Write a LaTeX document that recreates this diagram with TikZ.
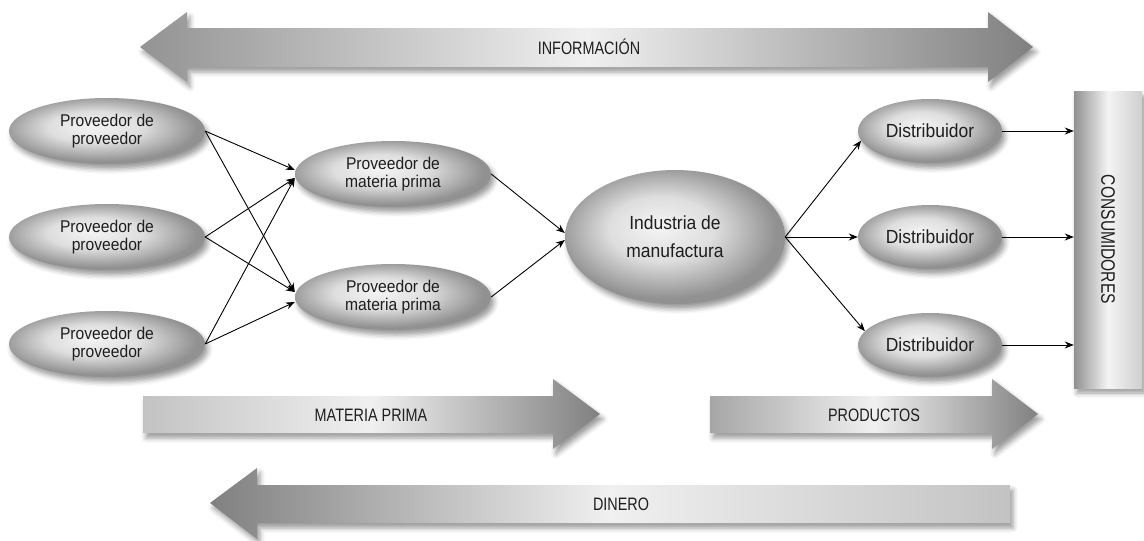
\documentclass[tikz,border=0pt]{standalone}
\usepackage{fontspec}
\setmainfont{Liberation Sans}[FakeStretch=0.92]
\newfontfamily\capsfont{Liberation Sans}[FakeStretch=0.8]
\usetikzlibrary{shapes.geometric,arrows.meta,shadows.blur}
\definecolor{txt}{RGB}{30,30,30}
\definecolor{ecA}{RGB}{244,244,244}
\definecolor{ecB}{RGB}{222,222,222}
\definecolor{ecC}{RGB}{145,145,145}
\definecolor{gdark}{RGB}{128,128,128}
\definecolor{gmid}{RGB}{195,195,195}
\definecolor{glight}{RGB}{240,240,240}
\pgfdeclareradialshading{ellsh}{\pgfpoint{-4bp}{4bp}}{color(0bp)=(ecA); color(12bp)=(ecB); color(25bp)=(ecC); color(50bp)=(ecC)}
\tikzset{
  softshadow/.style={blur shadow={shadow xshift=3pt, shadow yshift=-5pt, shadow blur radius=5pt, shadow opacity=40}},
  ell/.style={ellipse, draw=none, shading=ellsh, inner sep=0pt, align=center, text=txt, softshadow},
  prov/.style={ell, minimum width=196pt, minimum height=66pt, font=\fontsize{17}{18.5}\selectfont},
  dist/.style={ell, minimum width=144pt, minimum height=64pt, font=\fontsize{19}{20}\selectfont},
  conn/.style={draw=black, line width=0.9pt, -{Stealth[length=9pt,width=7pt]}},
  lbl/.style={font=\capsfont\fontsize{18}{20}\selectfont, text=txt, inner sep=0pt},
}
\begin{document}
\begin{tikzpicture}[x=1pt,y=-1pt]
\useasboundingbox (0,0) rectangle (1144,541);
% big arrows
\path[softshadow, left color=gdark!85!white, right color=gdark, middle color=glight]
  (140,47) -- (187,12) -- (187,28) -- (988,28) -- (988,12) -- (1033,47)
  -- (988,82) -- (988,67) -- (187,67) -- (187,82) -- cycle;
\node[lbl] (info) at (589,47) {INFORMACIÓN};

\path[softshadow, left color=gmid, right color=gdark, middle color=glight]
  (143,396) -- (553,396) -- (553,379) -- (600,414) -- (553,449) -- (553,433) -- (143,433) -- cycle;
\node[lbl] (mp) at (371,415) {MATERIA PRIMA};

\path[softshadow, left color=gdark!70!white, right color=gdark, middle color=glight]
  (710,396) -- (992,396) -- (992,379) -- (1038,414) -- (992,449) -- (992,433) -- (710,433) -- cycle;
\node[lbl] (prod) at (874,415) {PRODUCTOS};

\path[softshadow, left color=gdark, right color=gmid, middle color=glight]
  (210,503) -- (257,468) -- (257,485) -- (1010,485) -- (1010,523) -- (257,523) -- (257,539) -- cycle;
\node[lbl] (din) at (621,504) {DINERO};

% consumers
\node[softshadow, rectangle, minimum width=68pt, minimum height=297pt, inner sep=0pt,
      left color=ecC, right color=ecB!80!ecC, middle color=ecA] (cons) at (1108,239.5) {};
\node[lbl, font=\capsfont\fontsize{19.5}{21}\selectfont, rotate=-90] (conslbl) at (cons.center) {CONSUMIDORES};

% ellipses
\node[prov] (p1) at (107,131) {Proveedor de\\proveedor};
\node[prov] (p2) at (107,237) {Proveedor de\\proveedor};
\node[prov] (p3) at (107,344) {Proveedor de\\proveedor};
\node[prov] (m1) at (393,174) {Proveedor de\\materia prima};
\node[prov] (m2) at (393,297) {Proveedor de\\materia prima};
\node[ell, minimum width=220pt, minimum height=134pt, font=\fontsize{19}{20}\selectfont] (ind) at (675,237) {Industria de\\[8pt]manufactura};
\node[dist] (d1) at (930,131) {Distribuidor};
\node[dist] (d2) at (930,237) {Distribuidor};
\node[dist] (d3) at (930,345) {Distribuidor};

% connectors
\draw[conn] (p1.east) -- ([yshift=4pt]m1.west);
\draw[conn] (p1.east) -- ([yshift=5pt]m2.west);
\draw[conn] (p2.east) -- ([yshift=-4pt]m1.west);
\draw[conn] (p2.east) -- ([yshift=5pt]m2.west);
\draw[conn] (p3.east) -- ([yshift=-4pt]m1.west);
\draw[conn] (p3.east) -- ([yshift=-5pt]m2.west);
\draw[conn] (m1.east) -- ([yshift=4pt]ind.west);
\draw[conn] (m2.east) -- ([yshift=-3pt]ind.west);
\draw[conn] (ind.east) -- (d1.188);
\draw[conn] (ind.east) -- (d2.west);
\draw[conn] (ind.east) -- (d3.168);
\draw[conn] (d1.east) -- (d1.east -| cons.west);
\draw[conn] (d2.east) -- (d2.east -| cons.west);
\draw[conn] (d3.east) -- (d3.east -| cons.west);
\end{tikzpicture}
\end{document}
